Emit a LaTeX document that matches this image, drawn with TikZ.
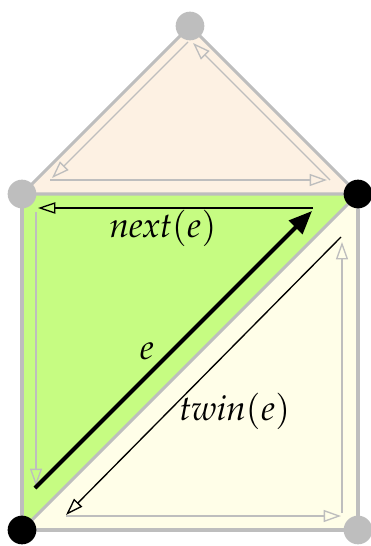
\documentclass[tikz,border=0pt]{standalone}
\usepackage{mathpazo}
\usetikzlibrary{arrows.meta}
\definecolor{edgegray}{RGB}{190,190,190}
\definecolor{peach}{RGB}{253,241,227}
\definecolor{lime}{RGB}{198,252,130}
\definecolor{cream}{RGB}{255,254,232}
\tikzset{
  edge/.style={draw=edgegray,line width=0.95pt,line join=round},
  vgray/.style={circle,fill=edgegray,inner sep=0pt,minimum size=8.6pt},
  vblack/.style={circle,fill=black,inner sep=0pt,minimum size=8.6pt},
  halfgray/.style={draw=edgegray,line width=0.4pt,-{Triangle[open,length=5.2pt,width=3.6pt]}},
  halfblack/.style={draw=black,line width=0.4pt,-{Triangle[open,length=5.2pt,width=3.4pt]}},
  halfmain/.style={draw=black,line width=1.2pt,-{Triangle[length=7pt,width=5.6pt]}},
  lbl/.style={inner sep=0pt,font=\fontsize{10.5}{12}\selectfont}
}
\begin{document}
\begin{tikzpicture}[x=0.3pt,y=-0.3pt]
\useasboundingbox (0,0) rectangle (370,546);
% vertex positions
\coordinate (T) at (190,26);
\coordinate (L) at (22,194);
\coordinate (R) at (358,194);
\coordinate (BL) at (22,530);
\coordinate (BR) at (358,530);
% faces
\fill[peach] (T) -- (L) -- (R) -- cycle;
\fill[lime] (L) -- (R) -- (BL) -- cycle;
\fill[cream] (R) -- (BR) -- (BL) -- cycle;
% edges
\draw[edge] (T) -- (L) -- (R) -- cycle;
\draw[edge] (L) -- (BL) -- (BR) -- (R);
\draw[edge] (BL) -- (R);
% half-edge end points
\coordinate (t1a) at (188,42);  \coordinate (t1b) at (52,178);
\coordinate (t2a) at (50,180);  \coordinate (t2b) at (327,180);
\coordinate (t3a) at (330,180); \coordinate (t3b) at (193,43);
\coordinate (na) at (313,208);  \coordinate (nb) at (38,208);
\coordinate (ea) at (35,488);   \coordinate (eb) at (312,211);
\coordinate (ga) at (36,212);   \coordinate (gb) at (36,486);
\coordinate (wa) at (341,237);  \coordinate (wb) at (66,515);
\coordinate (ya) at (66,516);   \coordinate (yb) at (341,516);
\coordinate (ra) at (342,513);  \coordinate (rb) at (342,242);
% top face half-edges
\draw[halfgray] (t1a) -- (t1b);
\draw[halfgray] (t2a) -- (t2b);
\draw[halfgray] (t3a) -- (t3b);
% green face
\draw[halfgray] (ga) -- (gb);
\draw[halfblack] (na) -- (nb);
\draw[halfmain] (ea) -- (eb);
% yellow face
\draw[halfblack] (wa) -- (wb);
\draw[halfgray] (ya) -- (yb);
\draw[halfgray] (ra) -- (rb);
% vertices
\node[vgray] (vT) at (T) {};
\node[vgray] (vL) at (L) {};
\node[vblack] (vR) at (R) {};
\node[vblack] (vBL) at (BL) {};
\node[vgray] (vBR) at (BR) {};
% labels
\node[lbl] (lnext) at (163,228) {$\mathit{next}(e)$};
\node[lbl] (le) at (147,351) {$e$};
\node[lbl] (ltwin) at (235,411) {$\mathit{twin}(e)$};
\end{tikzpicture}
\end{document}
